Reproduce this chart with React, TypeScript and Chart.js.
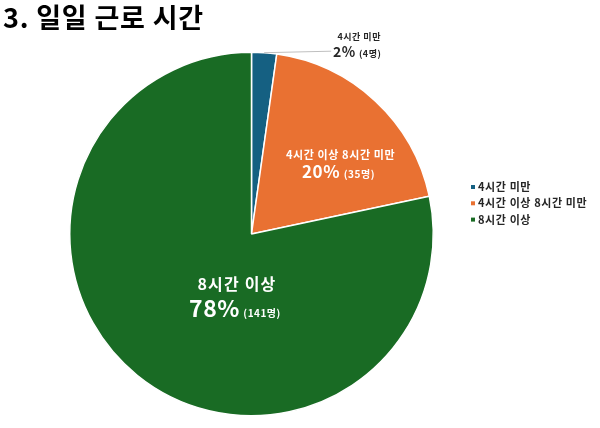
import React, { useEffect, useRef } from "react";
import { Chart, registerables } from "chart.js";

Chart.register(...registerables);

const title = "3. 일일 근로 시간";
const categories = ["4시간 미만", "4시간 이상 8시간 미만", "8시간 이상"];
const counts = [4, 35, 141];
const percents = ["2%", "20%", "78%"];
const colors = ["#156082", "#E97132", "#196B24"];

const FONT = "'Noto Sans CJK KR', 'Noto Sans', sans-serif";

const labelPlugin = {
  id: "labelPlugin",
  afterDraw(chart: any) {
    const ctx = chart.ctx as any;
    const meta = chart.getDatasetMeta(0);
    const arcs = meta.data;
    if (!arcs.length) return;
    const cx = arcs[0].x;
    const cy = arcs[0].y;
    const r = arcs[0].outerRadius;

    ctx.save();
    ctx.textBaseline = "alphabetic";

    // title
    ctx.fillStyle = "#000";
    ctx.font = `bold 27px ${FONT}`;
    ctx.letterSpacing = "0.8px";
    ctx.textAlign = "left";
    ctx.fillText(title, 3, 28);

    const drawPair = (
      x: number,
      y: number,
      big: string,
      small: string,
      bigSize: number,
      smallSize: number,
      color: string
    ) => {
      ctx.fillStyle = color;
      ctx.font = `bold ${bigSize}px ${FONT}`;
      const wb = ctx.measureText(big).width;
      ctx.font = `bold ${smallSize}px ${FONT}`;
      const ws = ctx.measureText(small).width;
      const gap = smallSize * 0.35;
      const start = x - (wb + gap + ws) / 2;
      ctx.textAlign = "left";
      ctx.font = `bold ${bigSize}px ${FONT}`;
      ctx.fillText(big, start, y);
      ctx.font = `bold ${smallSize}px ${FONT}`;
      ctx.fillText(small, start + wb + gap, y);
    };

    // slice 0: outside label with leader line
    {
      const a = arcs[0];
      const mid = (a.startAngle + a.endAngle) / 2;
      const px = cx + Math.cos(mid) * r;
      const py = cy + Math.sin(mid) * r;
      ctx.strokeStyle = "#bfbfbf";
      ctx.lineWidth = 1;
      ctx.beginPath();
      ctx.moveTo(px, py);
      ctx.lineTo(px + 67, py - 1.5);
      ctx.stroke();
      const lx = px + 95;
      ctx.letterSpacing = "0.5px";
      ctx.fillStyle = "#262626";
      ctx.font = `bold 9px ${FONT}`;
      ctx.textAlign = "center";
      ctx.fillText(categories[0], lx, py - 13);
      drawPair(lx - 2, py + 4, percents[0], `(${counts[0]}명)`, 14, 9, "#262626");
    }

    // slice 1: inside label
    {
      const x = cx + r * 0.49;
      const y = cy - r * 0.41;
      ctx.letterSpacing = "0.6px";
      ctx.fillStyle = "#fff";
      ctx.font = `bold 11px ${FONT}`;
      ctx.textAlign = "center";
      ctx.fillText(categories[1], x, y);
      drawPair(x - 2, y + 19, percents[1], `(${counts[1]}명)`, 17, 10, "#fff");
    }

    // slice 2: inside label
    {
      const x = cx - r * 0.08;
      const y = cy + r * 0.31;
      ctx.letterSpacing = "1.2px";
      ctx.fillStyle = "#fff";
      ctx.font = `bold 16px ${FONT}`;
      ctx.textAlign = "center";
      ctx.fillText(categories[2], x, y);
      ctx.letterSpacing = "0.5px";
      drawPair(x - 2, y + 27, percents[2], `(${counts[2]}명)`, 23, 10, "#fff");
    }

    // legend
    ctx.letterSpacing = "0.6px";
    ctx.font = `bold 11px ${FONT}`;
    ctx.textAlign = "left";
    categories.forEach((c, i) => {
      const y = 187 + i * 16.3;
      ctx.fillStyle = colors[i];
      ctx.fillRect(471, y - 2, 4, 4);
      ctx.fillStyle = "#262626";
      ctx.fillText(c, 478, y + 4);
    });

    ctx.restore();
  },
};

const App: React.FC = () => {
  const chartRef = useRef<HTMLCanvasElement | null>(null);

  useEffect(() => {
    document.body.style.margin = "0";
    const canvas = chartRef.current;
    if (!canvas) return;
    const context = canvas.getContext("2d");
    if (!context) return;

    const chart = new Chart(context, {
      type: "pie",
      data: {
        labels: categories,
        datasets: [
          {
            data: counts,
            backgroundColor: colors,
            borderColor: "#ffffff",
            borderWidth: 1.5,
          },
        ],
      },
      options: {
        responsive: false,
        animation: false,
        layout: { padding: { left: 69, right: 166, top: 51, bottom: 11 } },
        plugins: {
          legend: { display: false },
          tooltip: { enabled: false },
          title: { display: false },
        },
      },
      plugins: [labelPlugin],
    });

    return () => {
      chart.destroy();
    };
  }, []);

  return (
    <div style={{ width: 600, height: 428 }}>
      <canvas ref={chartRef} width={600} height={428} style={{ width: 600, height: 428 }} />
    </div>
  );
};

export default App;
